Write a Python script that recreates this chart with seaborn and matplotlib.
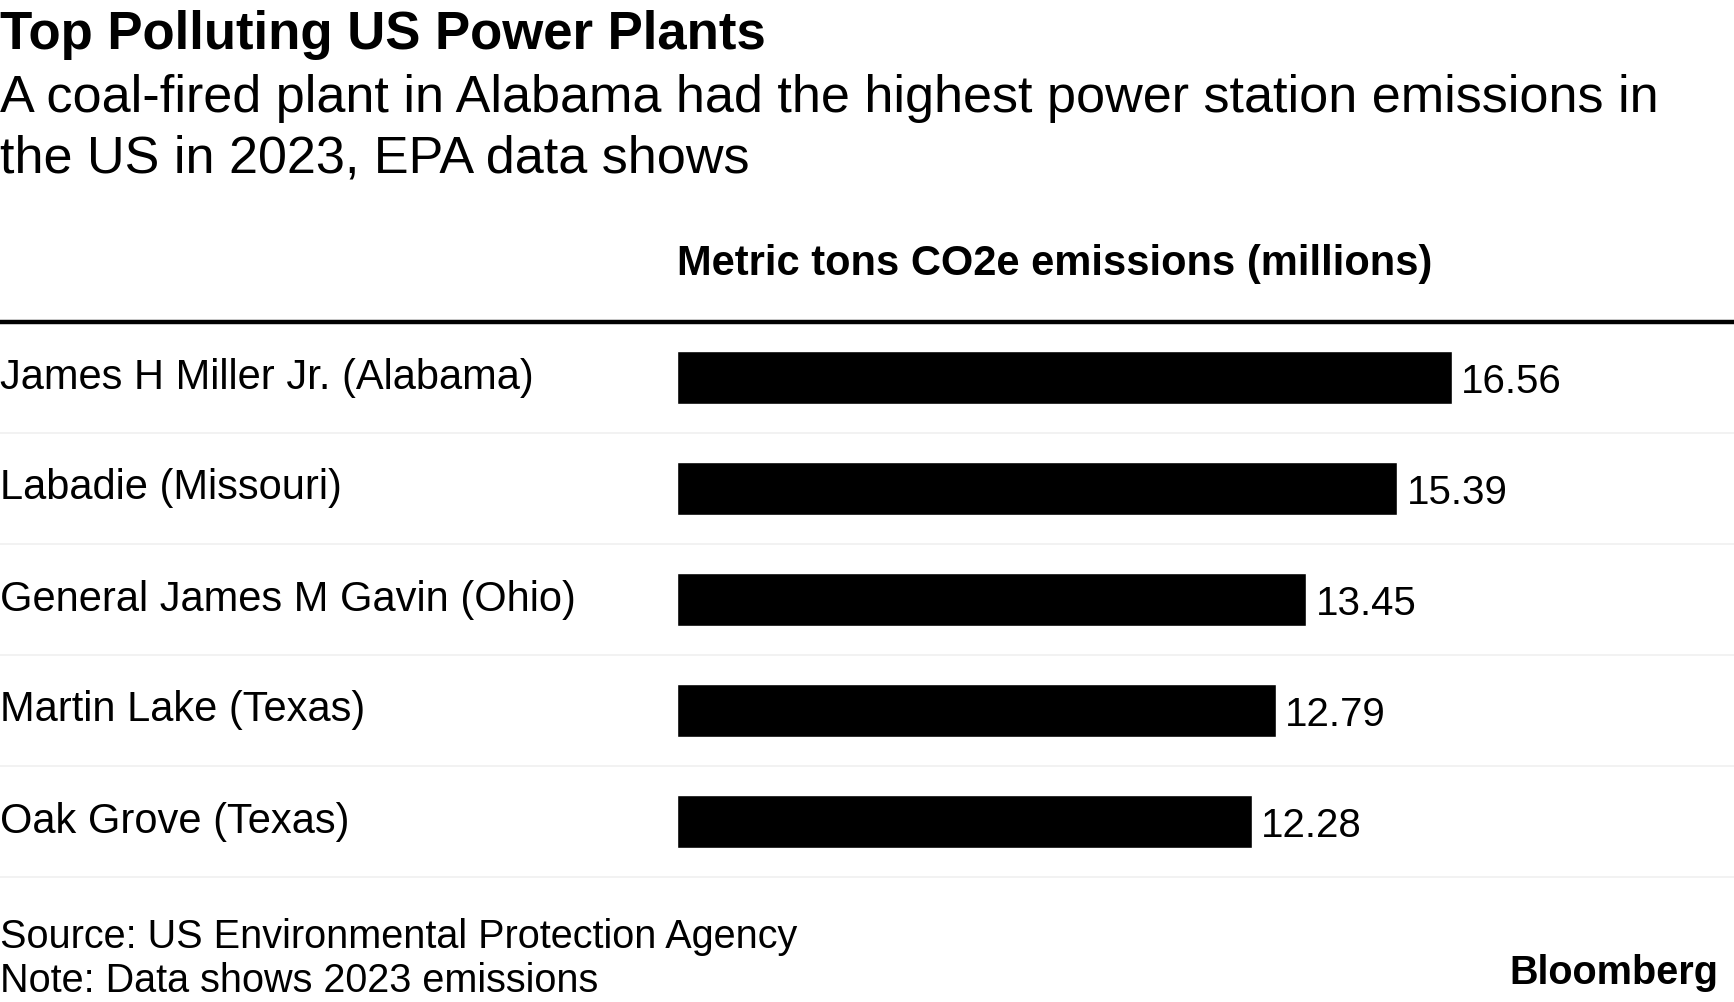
import matplotlib
matplotlib.use("Agg")
import matplotlib.pyplot as plt
import matplotlib.transforms as mtransforms
from matplotlib.lines import Line2D
import seaborn as sns
import pandas as pd

plants = [
    "James H Miller Jr. (Alabama)",
    "Labadie (Missouri)",
    "General James M Gavin (Ohio)",
    "Martin Lake (Texas)",
    "Oak Grove (Texas)",
]
emissions = [16.56, 15.39, 13.45, 12.79, 12.28]

title = "Top Polluting US Power Plants"
subtitle = "A coal-fired plant in Alabama had the highest power station emissions in\nthe US in 2023, EPA data shows"
header = "Metric tons CO2e emissions (millions)"
source = "Source: US Environmental Protection Agency\nNote: Data shows 2023 emissions"

df = pd.DataFrame({"plant": plants, "value": emissions})

sns.set_theme(style="white")
plt.rcParams["font.family"] = ["Liberation Sans", "DejaVu Sans"]
plt.rcParams["text.color"] = "black"

W, H = 1734, 1002
fig = plt.figure(figsize=(W / 100, H / 100), dpi=100)

# bar area: left edge at x=677px, rows between y=322 and y=877 px
ax = fig.add_axes([677 / W, 1 - 877 / H, 1 - 677 / W, (877 - 322) / H])
sns.barplot(data=df, x="value", y="plant", orient="h", color="black",
            saturation=1, width=0.47, ax=ax)
ax.set_xlim(0, (W - 677) / 46.8)
ax.set_ylim(len(plants) - 0.5, -0.5)
ax.axis("off")

for i, v in enumerate(emissions):
    ax.text(v + 0.2, i + 0.04, f"{v:.2f}", va="center", ha="left",
            fontsize=29, color="black")

# plant names at the left edge of the figure
lab_tr = mtransforms.blended_transform_factory(fig.transFigure, ax.transData)
for i, name in enumerate(plants):
    ax.text(0.0, i + 0.0, name, transform=lab_tr, va="center", ha="left",
            fontsize=30, color="black", clip_on=False)

# row separators and thick top rule across the full width
for i in range(len(plants)):
    fig.add_artist(Line2D([0, 1], [i + 0.5, i + 0.5], transform=lab_tr,
                          color="#f0f0f0", lw=1.2))
fig.add_artist(Line2D([0, 1], [-0.5, -0.5], transform=lab_tr,
                      color="black", lw=3.2))

fig.text(0.0, 1 - 35 / H, title, fontsize=38, fontweight="bold", va="center", ha="left")
fig.text(0.0, 1 - 129 / H, subtitle, fontsize=37.5, va="center", ha="left", linespacing=1.29)
fig.text(677 / W, 1 - 264 / H, header, fontsize=30, fontweight="bold", va="center", ha="left")
fig.text(0.0, 1 - 959 / H, source, fontsize=28.5, va="center", ha="left", linespacing=1.18)
fig.text(1718 / W, 1 - 973 / H, "Bloomberg", fontsize=28.5, fontweight="bold",
         va="center", ha="right")

fig.savefig("out.png", dpi=100, facecolor="white")
